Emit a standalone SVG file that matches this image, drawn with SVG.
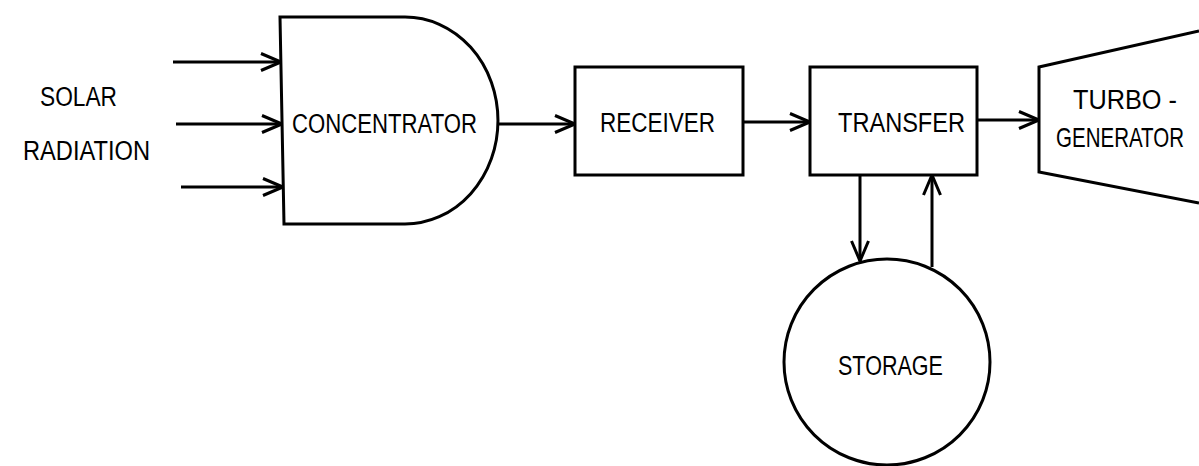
<svg xmlns="http://www.w3.org/2000/svg" width="1199" height="466" viewBox="0 0 1199 466">
  <style>
    .shape { fill: none; stroke: #000; stroke-width: 3; stroke-linejoin: miter; }
    .flow { fill: none; stroke: #000; stroke-width: 3; marker-end: url(#head); }
    .label { font-family: "Liberation Sans", Arial, sans-serif; font-size: 27px; fill: #000; }
  </style>
  <defs>
    <!-- open V arrowhead -->
    <marker id="head" viewBox="0 0 22 20" refX="21" refY="10" markerWidth="22" markerHeight="20" markerUnits="userSpaceOnUse" orient="auto">
      <path d="M1,1.5 L21,10 L1,18.5" fill="none" stroke="#000" stroke-width="3"/>
    </marker>
  </defs>
  <rect width="1199" height="466" fill="#fff"/>

  <g id="solar-radiation">
    <text class="label" x="40" y="106" textLength="77" lengthAdjust="spacingAndGlyphs">SOLAR</text>
    <text class="label" x="23" y="160" textLength="127" lengthAdjust="spacingAndGlyphs">RADIATION</text>
  </g>

  <g id="concentrator">
    <path class="shape" d="M280,17 L405,17 A93,103.5 0 0 1 405,224 L284,224 Z"/>
    <text class="label" x="292" y="133" textLength="185" lengthAdjust="spacingAndGlyphs">CONCENTRATOR</text>
  </g>

  <g id="receiver">
    <rect class="shape" x="575" y="67" width="168" height="108"/>
    <text class="label" x="600" y="132" textLength="115" lengthAdjust="spacingAndGlyphs">RECEIVER</text>
  </g>

  <g id="transfer">
    <rect class="shape" x="810" y="67" width="167" height="108"/>
    <text class="label" x="838" y="132" textLength="127" lengthAdjust="spacingAndGlyphs">TRANSFER</text>
  </g>

  <g id="turbo-generator">
    <path class="shape" d="M1199,31 L1039,67 L1039,172 L1199,203"/>
    <text class="label" x="1073" y="109" textLength="104" lengthAdjust="spacingAndGlyphs">TURBO -</text>
    <!-- condensed horizontally so the word stays inside the page edge -->
    <text class="label" transform="translate(1056,147) scale(0.76,1)">GENERATOR</text>
  </g>

  <g id="storage">
    <circle class="shape" cx="887" cy="362" r="103"/>
    <text class="label" x="838" y="375" textLength="105" lengthAdjust="spacingAndGlyphs">STORAGE</text>
  </g>

  <g id="connectors">
    <line class="flow" x1="173" y1="62" x2="281" y2="62"/>
    <line class="flow" x1="176" y1="124" x2="282" y2="124"/>
    <line class="flow" x1="181" y1="187" x2="283" y2="187"/>
    <line class="flow" x1="498" y1="124" x2="575" y2="124"/>
    <line class="flow" x1="743" y1="122" x2="810" y2="122"/>
    <line class="flow" x1="977" y1="120" x2="1039" y2="120"/>
    <line class="flow" x1="860" y1="175" x2="860" y2="261"/>
    <line class="flow" x1="932" y1="267" x2="932" y2="175"/>
  </g>
</svg>
